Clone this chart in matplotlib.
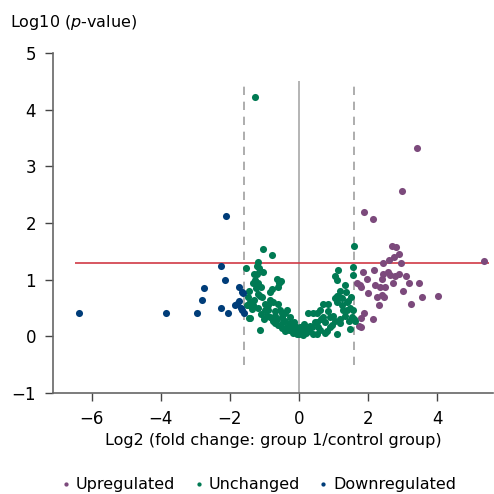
import matplotlib.pyplot as plt

# log2 fold change / -log10 p-value
up_x = [3.42, 2.99, 1.88, 2.14, 2.70, 2.81, 2.90, 2.75, 2.61, 2.96, 2.43, 5.36,
        2.17, 1.86, 2.43, 2.58, 2.64, 2.90, 2.78, 3.10, 2.41, 1.97, 2.72, 1.68,
        3.19, 3.48, 1.80, 2.20, 2.35, 2.49, 3.01, 2.00, 2.41, 2.26, 2.46, 3.57,
        4.03, 3.25, 2.32, 1.88, 1.80, 2.14, 1.74, 1.80, 1.77]
up_y = [3.32, 2.56, 2.19, 2.07, 1.59, 1.57, 1.45, 1.40, 1.34, 1.29, 1.29, 1.33,
        1.17, 1.13, 1.11, 1.13, 1.08, 1.11, 1.06, 1.06, 1.02, 1.02, 0.95, 0.94,
        0.94, 0.95, 0.87, 0.90, 0.87, 0.87, 0.80, 0.76, 0.74, 0.69, 0.69, 0.69,
        0.71, 0.58, 0.55, 0.41, 0.32, 0.30, 0.19, 0.16, 0.90]

unch_x = [-1.28, -1.04, -0.78, -1.19, -1.22, -1.16, -1.04, -1.22, -1.28, -1.19,
          -1.33, -0.64, -0.58, -0.52, -0.61, -0.78, -1.54, -1.07, -0.84, -1.42,
          -1.48, -1.36, -1.42, -1.13, -0.99, -0.93, -0.78, -0.70, -0.49, -0.35,
          -0.26, -0.17, 0.03, 0.17, 0.32, 0.52, 0.70, 0.52, 0.70, 0.99,
          1.10, 1.10, 1.10, 1.33, 1.19, 1.39, 1.57, 1.57, 1.59, 1.62,
          1.57, 1.28, 0.90, 0.52, -0.06, 1.13, 1.04, -1.33, -1.13, -0.84,
          -0.99, -0.75, -0.61, -0.90, -0.70, -0.49, -0.46, -0.12, 0.03, 0.26,
          -0.55, -0.75, -0.35, -0.17, -0.03, 0.12, -0.41, -0.26, 1.13, 1.04,
          1.25, 0.84, 0.61, 0.41, 0.46, 0.38, 0.55, 0.75, 1.04, 1.19,
          1.48, 1.39, 1.54, 1.48, 0.75, 1.10, 1.33, -1.51, -1.48, -1.45,
          -0.50, -0.40, -0.30, -0.20, -0.10, 0.00, 0.10, 0.20, 0.30, -0.60,
          -0.65, -0.85, -1.00, -1.10, -1.20, -1.30, -1.20, -0.90, -0.70, -0.40,
          0.40, 0.60, 0.80, 0.95, 1.20, 1.45, 0.90, 0.65, -0.15, 0.15,
          -1.30, -1.25, -1.10, -1.45, 1.59, 1.36, 1.42, 1.50, 1.25, 0.85]
unch_y = [4.22, 1.54, 1.43, 1.31, 1.24, 1.20, 1.13, 1.11, 0.99, 0.94,
          0.94, 1.01, 0.94, 0.97, 0.88, 0.83, 1.20, 0.69, 0.64, 0.60,
          0.55, 0.49, 0.32, 0.11, 0.46, 0.37, 0.32, 0.23, 0.42, 0.46,
          0.23, 0.11, 0.11, 0.14, 0.19, 0.25, 0.34, 0.42, 0.58, 0.37,
          0.60, 0.72, 0.99, 0.90, 0.81, 0.60, 1.22, 1.08, 1.59, 0.28,
          0.46, 0.46, 0.16, 0.05, 0.05, 1.17, 1.06, 0.55, 0.72, 0.78,
          0.58, 0.60, 0.58, 0.46, 0.37, 0.34, 0.25, 0.19, 0.16, 0.42,
          0.46, 0.28, 0.16, 0.07, 0.07, 0.02, 0.41, 0.34, 0.72, 0.67,
          0.55, 0.58, 0.46, 0.41, 0.25, 0.16, 0.16, 0.25, 0.28, 0.23,
          0.14, 0.46, 0.34, 0.51, 0.07, 0.05, 0.37, 0.55, 0.69, 0.32,
          0.15, 0.10, 0.12, 0.18, 0.10, 0.05, 0.08, 0.06, 0.10, 0.20,
          0.30, 0.35, 0.30, 0.40, 0.50, 0.65, 0.75, 0.55, 0.45, 0.28,
          0.05, 0.12, 0.10, 0.20, 0.30, 0.28, 0.35, 0.30, 0.25, 0.22,
          1.10, 0.85, 0.88, 0.80, 0.30, 0.78, 0.62, 0.70, 0.68, 0.45]

down_x = [-6.38, -3.86, -2.96, -2.12, -2.26, -2.14, -2.75, -2.81, -2.26, -2.06,
          -1.80, -1.74, -1.74, -1.65, -1.62, -1.65, -1.59, -1.86, -1.68]
down_y = [0.42, 0.42, 0.42, 2.12, 1.25, 0.99, 0.85, 0.64, 0.51, 0.41,
          0.57, 0.62, 0.87, 0.78, 0.76, 0.46, 0.41, 0.55, 0.51]

fc_cut = 1.585   # log2(3)
p_cut = 1.301    # -log10(0.05)

c_up = '#7c4a7c'
c_unch = '#007a53'
c_down = '#003d79'

plt.rcParams['font.family'] = ['DejaVu Sans']
plt.rcParams['mathtext.fontset'] = 'dejavusans'

fig = plt.figure(figsize=(4.94, 4.94), dpi=100)
ax = fig.add_axes([0.107, 0.204, 0.891, 0.689])

ax.vlines(0, -1, 4.5, color='#a8a8a8', lw=1.2, zorder=1)
ax.vlines([-fc_cut, fc_cut], -0.5, 4.5, color='#a0a0a0', lw=1.2,
          linestyles=(0, (5, 4)), zorder=1)
ax.hlines(p_cut, -6.5, 5.5, color='#d13a45', lw=1.2, zorder=1)

ax.scatter(up_x, up_y, s=26, color=c_up, lw=0, label='Upregulated', zorder=3)
ax.scatter(unch_x, unch_y, s=26, color=c_unch, lw=0, label='Unchanged', zorder=3)
ax.scatter(down_x, down_y, s=26, color=c_down, lw=0, label='Downregulated', zorder=3)

ax.set_xlim(-7.13, 5.62)
ax.set_ylim(-1, 5)
ax.set_xticks([-6, -4, -2, 0, 2, 4])
ax.set_yticks([-1, 0, 1, 2, 3, 4, 5])
ax.set_xticklabels(['\u22126', '\u22124', '\u22122', '0', '2', '4'])
ax.set_yticklabels(['\u22121', '0', '1', '2', '3', '4', '5'])

for side in ['top', 'right']:
    ax.spines[side].set_visible(False)
for side in ['left', 'bottom']:
    ax.spines[side].set_color('#666666')
    ax.spines[side].set_linewidth(1.2)
ax.tick_params(direction='out', length=6, width=1, color='#444444',
               labelsize=12, pad=6)

ax.set_xlabel('Log2 (fold change: group 1/control group)', fontsize=11.5,
              labelpad=4)
fig.text(0.02, 0.955, 'Log10 ($\\mathit{p}$-value)', fontsize=11.5,
         ha='left', va='center')

ax.legend(loc='center', bbox_to_anchor=(0.52, 0.02), bbox_transform=fig.transFigure,
          ncol=3, frameon=False, fontsize=11.5, markerscale=0.6, handletextpad=0.1,
          columnspacing=1.0, handlelength=1.0, borderpad=0.1)

fig.savefig('out.png', dpi=100)
